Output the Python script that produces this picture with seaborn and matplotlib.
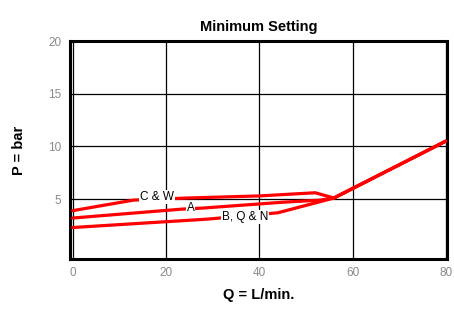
import numpy as np
import pandas as pd
import matplotlib
matplotlib.use("Agg")
import matplotlib.pyplot as plt
import seaborn as sns


TITLE = "Minimum Setting"
X_LABEL = "Q = L/min."
Y_LABEL = "P = bar"

# curves (flow L/min, pressure bar)
CW_Q = [0, 13, 24.5, 40, 52, 56, 80]
CW_P = [3.9, 4.9, 5.1, 5.3, 5.6, 5.1, 10.5]

A_Q = [0, 23.5, 28, 45, 53, 56, 80]
A_P = [3.2, 4.05, 4.15, 4.7, 4.9, 5.1, 10.5]

BQN_Q = [0, 29, 44, 56, 80]
BQN_P = [2.3, 3.1, 3.7, 5.1, 10.5]

CURVE_NAMES = ["C & W", "A", "B, Q & N"]
LABEL_POS = [(18.1, 5.2), (25.3, 4.15), (37.0, 3.3)]

X_TICKS = [0, 20, 40, 60, 80]
Y_TICKS = [5, 10, 15, 20]


def main():
    sns.set_style("white")
    plt.rcParams["font.family"] = ["Liberation Sans", "DejaVu Sans"]
    plt.rcParams["text.color"] = "black"
    plt.rcParams["axes.labelcolor"] = "black"

    fig = plt.figure(figsize=(4.54, 3.16), dpi=100)
    ax = fig.add_axes([0.154, 0.180, 0.831, 0.690])

    frames = [
        pd.DataFrame({"Q": CW_Q, "P": CW_P}),
        pd.DataFrame({"Q": A_Q, "P": A_P}),
        pd.DataFrame({"Q": BQN_Q, "P": BQN_P}),
    ]
    for df in frames:
        sns.lineplot(data=df, x="Q", y="P", color="#ff0000", linewidth=2.3,
                     sort=False, ax=ax, zorder=3)

    for name, (qx, py) in zip(CURVE_NAMES, LABEL_POS):
        ax.text(qx, py, name, fontsize=8.5, color="black", ha="center", va="center",
                zorder=4, bbox=dict(facecolor="white", edgecolor="none", pad=0.5))

    ax.set_xlim(-0.6, 80.3)
    ax.set_ylim(-0.7, 20)
    ax.set_xticks(X_TICKS)
    ax.set_yticks(Y_TICKS)
    ax.grid(True, color="black", linewidth=0.9)
    ax.set_axisbelow(True)
    for spine in ax.spines.values():
        spine.set_color("black")
        spine.set_linewidth(2.2)
    ax.tick_params(length=0, labelsize=8.5, labelcolor="#8a8a8a", pad=6)

    ax.set_title(TITLE, fontsize=10.5, fontweight="bold", color="black", pad=7)
    ax.set_xlabel(X_LABEL, fontsize=10.5, fontweight="bold", labelpad=6)
    ax.set_ylabel(Y_LABEL, fontsize=10.5, fontweight="bold", labelpad=16)

    fig.savefig("out.png", dpi=100)
    plt.close(fig)


if __name__ == "__main__":
    main()
